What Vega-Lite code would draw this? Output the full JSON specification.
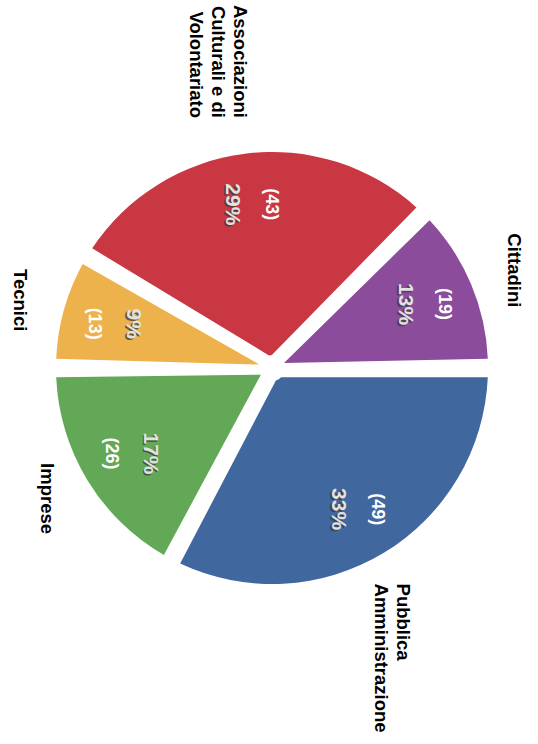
{
  "$schema": "https://vega.github.io/schema/vega-lite/v6.json",
  "width": 538,
  "height": 744,
  "autosize": {"type": "fit", "contains": "padding"},
  "padding": {"left": 6, "top": 0, "right": 0, "bottom": 8},
  "background": "white",
  "view": {"stroke": null},
  "data": {
    "values": [
      {"category": "Pubblica Amministrazione", "label": ["Pubblica", "Amministrazione"], "count": 49, "pct": "33%", "countLabel": "(49)", "ord": 1},
      {"category": "Imprese", "label": ["Imprese"], "count": 26, "pct": "17%", "countLabel": "(26)", "ord": 2},
      {"category": "Tecnici", "label": ["Tecnici"], "count": 13, "pct": "9%", "countLabel": "(13)", "ord": 3},
      {"category": "Associazioni Culturali e di Volontariato", "label": ["Associazioni", "Culturali e di", "Volontariato"], "count": 43, "pct": "29%", "countLabel": "(43)", "ord": 4},
      {"category": "Cittadini", "label": ["Cittadini"], "count": 19, "pct": "13%", "countLabel": "(19)", "ord": 5}
    ]
  },
  "encoding": {
    "theta": {"field": "count", "type": "quantitative", "stack": true, "scale": {"range": [1.5708, 7.854]}},
    "order": {"field": "ord", "type": "quantitative"}
  },
  "layer": [
    {
      "mark": {"type": "arc", "radius": 216, "innerRadius": 13, "padAngle": 0.085},
      "encoding": {
        "color": {
          "field": "category",
          "type": "nominal",
          "scale": {
            "domain": ["Pubblica Amministrazione", "Imprese", "Tecnici", "Associazioni Culturali e di Volontariato", "Cittadini"],
            "range": ["#41679f", "#62a857", "#edb24c", "#c93842", "#8b4c9c"]
          },
          "legend": null
        }
      }
    },
    {
      "mark": {"type": "text", "radius": 165, "angle": 90, "font": "Liberation Sans", "fontSize": 21, "fontWeight": "bold", "color": "#3a3a3a", "opacity": 0.75, "dx": 1.5,
        "dy": {"expr": "(datum.category === 'Tecnici' || datum.category === 'Imprese') ? -18 : 21"}},
      "encoding": {"text": {"field": "pct", "type": "nominal"}, "detail": {"field": "category", "type": "nominal"}}
    },
    {
      "mark": {"type": "text", "radius": 165, "angle": 90, "font": "Liberation Sans", "fontSize": 21, "fontWeight": "bold", "color": "#e2e2e2",
        "dy": {"expr": "(datum.category === 'Tecnici' || datum.category === 'Imprese') ? -19.5 : 19.5"}},
      "encoding": {"text": {"field": "pct", "type": "nominal"}, "detail": {"field": "category", "type": "nominal"}}
    },
    {
      "mark": {"type": "text", "radius": 165, "angle": 90, "font": "Liberation Sans", "fontSize": 18, "fontWeight": "bold", "color": "white",
        "dy": {"expr": "(datum.category === 'Tecnici' || datum.category === 'Imprese') ? 19.5 : -19.5"}},
      "encoding": {"text": {"field": "countLabel", "type": "nominal"}, "detail": {"field": "category", "type": "nominal"}}
    },
    {
      "mark": {"type": "text", "radius": 252, "angle": 90, "font": "Liberation Sans", "fontSize": 18.5, "fontWeight": "bold", "color": "black", "lineHeight": 22,
        "align": {"expr": "datum.category === 'Pubblica Amministrazione' ? 'left' : (datum.category === 'Associazioni Culturali e di Volontariato' ? 'right' : 'center')"},
        "baseline": {"expr": "datum.category === 'Cittadini' ? 'bottom' : ((datum.category === 'Tecnici' || datum.category === 'Imprese') ? 'top' : 'middle')"}},
      "encoding": {"text": {"field": "label", "type": "nominal"}, "detail": {"field": "category", "type": "nominal"}}
    }
  ]
}
